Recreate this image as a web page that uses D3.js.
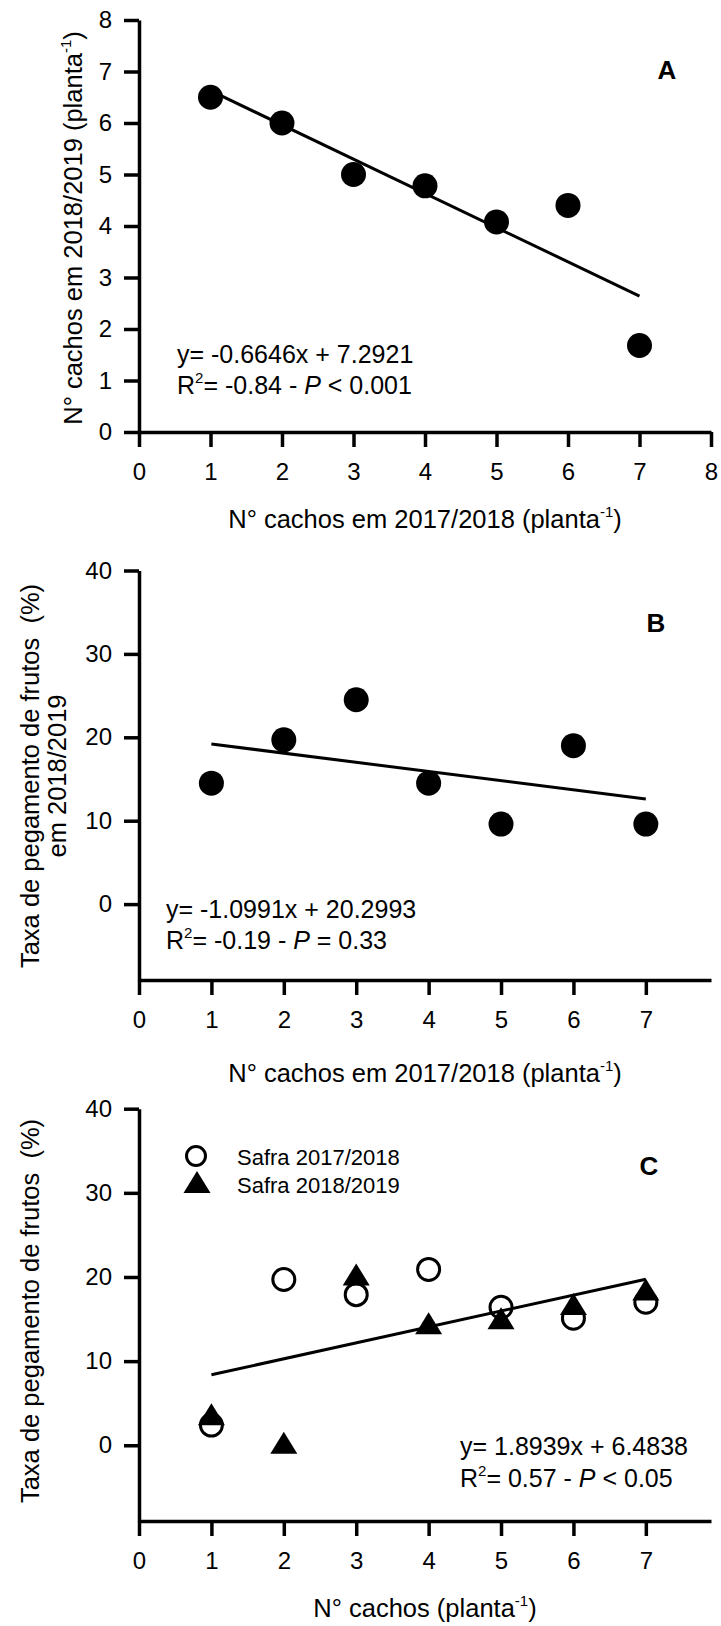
<!DOCTYPE html>
<html>
<head>
<meta charset="utf-8">
<script src="https://cdn.jsdelivr.net/npm/d3@7"></script>
<style>
  body { margin: 0; background: #fff; }
  svg { display: block; background: #fff; }
  text { font-family: "Liberation Sans", Arial, Helvetica, sans-serif; fill: #000; }
</style>
</head>
<body>
<svg id="fig" width="721" height="1626"></svg>
<script>
// ---- data ----
const cachos = [1, 2, 3, 4, 5, 6, 7];                       // N° cachos 2017/2018 (planta-1)
const cachos1819 = [6.5, 6.0, 5.0, 4.78, 4.08, 4.4, 1.68];  // panel A
const pegamento1819 = [14.5, 19.7, 24.5, 14.5, 9.6, 19.0, 9.6]; // panel B (%)
const safra1718 = [2.4, 19.7, 17.9, 20.9, 16.4, 15.1, 17.0];    // panel C, open circles
const safra1819 = [3.7, 0.3, 20.3, 14.5, 15.1, 16.8, 18.5];     // panel C, triangles
const fitA = { slope: -0.6646, intercept: 7.2921 };
const fitB = { slope: -1.0991, intercept: 20.2993 };
const fitC = { slope: 1.8939, intercept: 6.4838 };
const ticksXA = [0, 1, 2, 3, 4, 5, 6, 7, 8];
const ticksYA = [0, 1, 2, 3, 4, 5, 6, 7, 8];
const ticksX7 = [0, 1, 2, 3, 4, 5, 6, 7];
const ticksPct = [0, 10, 20, 30, 40];
const legendLabels = ["Safra 2017/2018", "Safra 2018/2019"];

const svg = d3.select("#fig");
const FONT_TICK = 24, FONT_TITLE = 25.5, FONT_EQ = 25, FONT_TAG = 26;
const AXIS_W = 3.5;

// text helper: parts = [{t, sup, it}]
function richText(g, x, y, parts, size, anchor) {
  const t = g.append("text").attr("x", x).attr("y", y)
    .attr("font-size", size).attr("text-anchor", anchor || "start")
    .style("white-space", "pre");
  const supSize = Math.round(size * 0.6), lift = Math.round(size * 0.42);
  let raised = false;
  parts.forEach(p => {
    const s = t.append("tspan").text(p.t);
    if (p.sup) { s.attr("font-size", supSize).attr("dy", -lift); raised = true; }
    else if (raised) { s.attr("dy", lift); raised = false; }
    if (p.it) s.attr("font-style", "italic");
  });
  return t;
}

function triPath(w, h) {
  return `M0,${-h / 2}L${w / 2},${h / 2}L${-w / 2},${h / 2}Z`;
}

function panel(cfg) {
  const g = svg.append("g");
  const x = d3.scaleLinear().domain(cfg.xDomain).range([139, 711]);
  const y = d3.scaleLinear().domain(cfg.yDomain).range(cfg.yRange);
  const y0 = y(cfg.yDomain[0]);

  const ax = g.append("g").attr("transform", `translate(0,${y0})`)
    .call(d3.axisBottom(x).tickValues(cfg.xTicks).tickSize(15).tickSizeOuter(0).tickPadding(16));
  const ay = g.append("g").attr("transform", `translate(139,0)`)
    .call(d3.axisLeft(y).tickValues(cfg.yTicks).tickSize(15).tickSizeOuter(0).tickPadding(12));
  [ax, ay].forEach(a => {
    a.select(".domain").attr("stroke", "#000").attr("stroke-width", AXIS_W);
    a.selectAll(".tick line").attr("stroke", "#000").attr("stroke-width", AXIS_W);
    a.selectAll(".tick text").attr("font-size", FONT_TICK).attr("fill", "#000")
      .style("font-family", '"Liberation Sans", Arial, sans-serif');
  });

  // regression line over x = 1..7
  const fitLine = d3.line().x(d => x(d)).y(d => y(cfg.fit.slope * d + cfg.fit.intercept));
  g.append("path").datum([1, 7]).attr("d", fitLine)
    .attr("fill", "none").attr("stroke", "#000").attr("stroke-width", 3);

  return { g, x, y };
}

// ---------- Panel A ----------
const A = panel({
  xDomain: [0, 8], yDomain: [0, 8], yRange: [432, 20],
  xTicks: ticksXA, yTicks: ticksYA, fit: fitA
});
A.g.selectAll("circle.pt").data(cachos).join("circle")
  .attr("cx", d => A.x(d)).attr("cy", (d, i) => A.y(cachos1819[i])).attr("r", 12.5).attr("fill", "#000");
A.g.append("text").attr("x", 667).attr("y", 79).attr("text-anchor", "middle")
  .attr("font-size", FONT_TAG).attr("font-weight", "bold").text("A");
richText(A.g, 177, 363, [{ t: "y= -0.6646x + 7.2921" }], FONT_EQ);
richText(A.g, 177, 394, [{ t: "R" }, { t: "2", sup: true }, { t: "= -0.84 - " }, { t: "P", it: true }, { t: " < 0.001" }], FONT_EQ);
richText(A.g, 425, 528, [{ t: "N° cachos em 2017/2018 (planta" }, { t: "-1", sup: true }, { t: ")" }], FONT_TITLE, "middle");
richText(A.g.append("g").attr("transform", "translate(73,228) rotate(-90)"), 0, 9,
  [{ t: "N° cachos em 2018/2019 (planta" }, { t: "-1", sup: true }, { t: ")" }], FONT_TITLE, "middle");

// ---------- Panel B ----------
const B = panel({
  xDomain: [0, 7.9], yDomain: [-9.1, 40], yRange: [980, 570.5],
  xTicks: ticksX7, yTicks: ticksPct, fit: fitB
});
B.g.selectAll("circle.pt").data(cachos).join("circle")
  .attr("cx", d => B.x(d)).attr("cy", (d, i) => B.y(pegamento1819[i])).attr("r", 12.5).attr("fill", "#000");
B.g.append("text").attr("x", 656).attr("y", 632).attr("text-anchor", "middle")
  .attr("font-size", FONT_TAG).attr("font-weight", "bold").text("B");
richText(B.g, 166, 918, [{ t: "y= -1.0991x + 20.2993" }], FONT_EQ);
richText(B.g, 166, 949, [{ t: "R" }, { t: "2", sup: true }, { t: "= -0.19 - " }, { t: "P", it: true }, { t: " = 0.33" }], FONT_EQ);
richText(B.g, 425, 1082, [{ t: "N° cachos em 2017/2018 (planta" }, { t: "-1", sup: true }, { t: ")" }], FONT_TITLE, "middle");
const byt = B.g.append("g").attr("transform", "translate(0,776) rotate(-90)");
richText(byt, 0, 39, [{ t: "Taxa de pegamento de frutos\u00A0 (%)" }], FONT_TITLE, "middle");
richText(byt, 0, 66, [{ t: "em 2018/2019" }], FONT_TITLE, "middle");

// ---------- Panel C ----------
const C = panel({
  xDomain: [0, 7.9], yDomain: [-9, 40], yRange: [1521, 1108.7],
  xTicks: ticksX7, yTicks: ticksPct, fit: fitC
});
C.g.selectAll("circle.pt").data(cachos).join("circle")
  .attr("cx", d => C.x(d)).attr("cy", (d, i) => C.y(safra1718[i])).attr("r", 11)
  .attr("fill", "none").attr("stroke", "#000").attr("stroke-width", 3);
C.g.selectAll("path.tri").data(cachos).join("path").attr("class", "tri")
  .attr("d", triPath(27, 22))
  .attr("transform", (d, i) => `translate(${C.x(d)},${C.y(safra1819[i])})`)
  .attr("fill", "#000");
C.g.append("text").attr("x", 649).attr("y", 1175).attr("text-anchor", "middle")
  .attr("font-size", FONT_TAG).attr("font-weight", "bold").text("C");
// legend
C.g.append("circle").attr("cx", 196).attr("cy", 1156).attr("r", 9.5)
  .attr("fill", "none").attr("stroke", "#000").attr("stroke-width", 3);
C.g.append("path").attr("d", triPath(27, 22)).attr("transform", "translate(197,1182)").attr("fill", "#000");
legendLabels.forEach((l, i) => {
  C.g.append("text").attr("x", 237).attr("y", 1165 + i * 28).attr("font-size", 22).text(l);
});
richText(C.g, 460, 1455, [{ t: "y= 1.8939x + 6.4838" }], FONT_EQ);
richText(C.g, 460, 1487, [{ t: "R" }, { t: "2", sup: true }, { t: "= 0.57 - " }, { t: "P", it: true }, { t: " < 0.05" }], FONT_EQ);
richText(C.g, 425, 1617, [{ t: "N° cachos (planta" }, { t: "-1", sup: true }, { t: ")" }], FONT_TITLE, "middle");
richText(C.g.append("g").attr("transform", "translate(30,1311) rotate(-90)"), 0, 9,
  [{ t: "Taxa de pegamento de frutos\u00A0 (%)" }], FONT_TITLE, "middle");
</script>
</body>
</html>
